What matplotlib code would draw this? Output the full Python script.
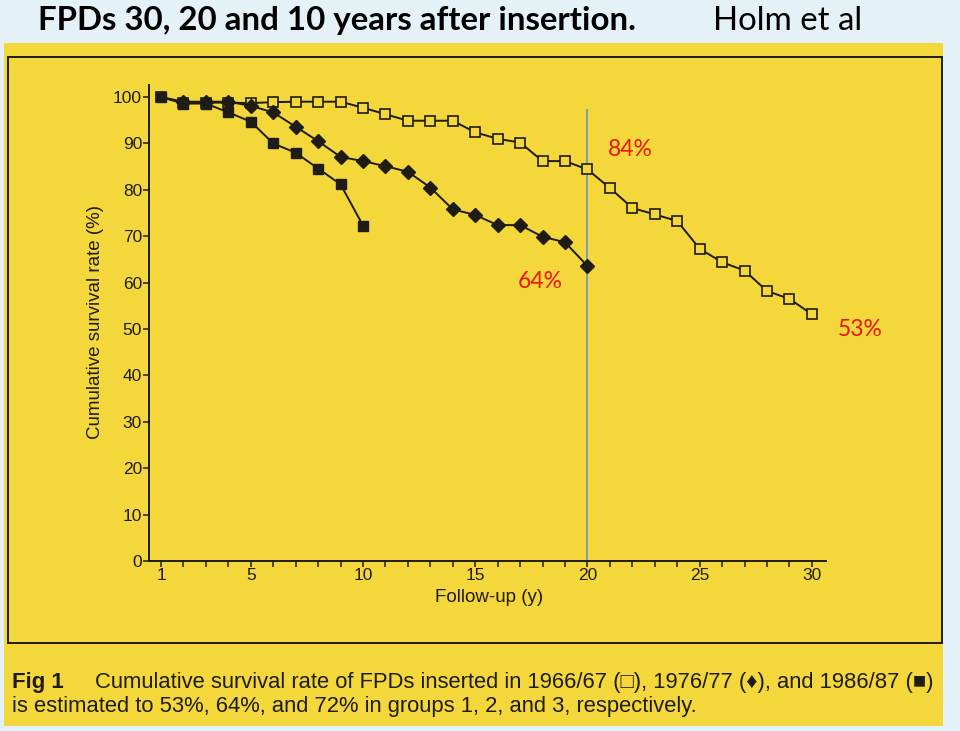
import matplotlib
matplotlib.use('Agg')
import matplotlib.pyplot as plt
from matplotlib import font_manager
from matplotlib.patches import Rectangle

# --- data ---
years_g1 = list(range(1, 31))
surv_g1 = [100, 98.8, 98.8, 98.8, 98.7, 98.9, 99.0, 99.0, 99.0, 97.7,
           96.3, 94.9, 94.9, 94.9, 92.4, 91.0, 90.2, 86.2, 86.2, 84.4,
           80.4, 76.1, 74.7, 73.3, 67.3, 64.4, 62.6, 58.2, 56.5, 53.2]
years_g2 = list(range(1, 21))
surv_g2 = [100, 99.0, 99.0, 99.0, 98.1, 96.7, 93.6, 90.5, 87.1, 86.2,
           85.1, 83.9, 80.5, 75.8, 74.6, 72.4, 72.4, 69.9, 68.7, 63.6]
years_g3 = list(range(1, 11))
surv_g3 = [100, 98.6, 98.6, 96.7, 94.7, 90.0, 88.0, 84.6, 81.2, 72.3]

marks = ['84%', '64%', '53%']
mark_x = [21.9, 17.9, 32.15]
mark_y = [88.8, 60.3, 49.8]

xticks_lab = [1, 5, 10, 15, 20, 25, 30]
yticks = list(range(0, 101, 10))

# --- style ---
SKY = '#e4f1f7'
YELLOW = '#f4d73a'
INK = '#1e1c14'
RED = '#e8170f'
VLINE = '#6a92c8'


def _has(name):
    try:
        font_manager.findfont(name, fallback_to_default=False)
        return True
    except Exception:
        return False


NARROW = 'Liberation Sans Narrow' if _has('Liberation Sans Narrow') else 'Liberation Sans'
SANS = [NARROW, 'Liberation Sans', 'DejaVu Sans']
HUMAN = ['Lato', 'Open Sans', 'DejaVu Sans']

W, H = 960, 731
fig = plt.figure(figsize=(W / 100, H / 100), dpi=100, facecolor=SKY)


def fx(px):
    return px / W


def fy(py):
    return 1 - py / H


# yellow plate and dark frame (behind the axes)
fig.patches.append(Rectangle((fx(4), fy(726)), fx(943) - fx(4), fy(43) - fy(726),
                             transform=fig.transFigure, facecolor=YELLOW,
                             edgecolor='none', zorder=-3))
fig.patches.append(Rectangle((fx(8), fy(643)), fx(942) - fx(8), fy(57) - fy(643),
                             transform=fig.transFigure, facecolor='none',
                             edgecolor=INK, linewidth=1.4, zorder=-2))

ax = fig.add_axes([fx(149), fy(561), fx(826) - fx(149), fy(85) - fy(561)])
ax.patch.set_visible(False)
ax.set_xlim(0.465, 30.63)
ax.set_ylim(0, 102.6)

ax.vlines(20, 0, 97.4, color=VLINE, linewidth=1.2, zorder=1)

ax.plot(years_g1, surv_g1, color=INK, linewidth=1.4, marker='s', markersize=7,
        markerfacecolor=YELLOW, markeredgecolor=INK, markeredgewidth=1.2, zorder=2)
# the first diamond sits under the filled square at 100 %
ax.plot(years_g2, surv_g2, color=INK, linewidth=1.4, marker='D', markersize=7.5,
        markerfacecolor=INK, markeredgecolor=INK, markevery=slice(1, None), zorder=3)
ax.plot(years_g3, surv_g3, color=INK, linewidth=1.4, marker='s', markersize=6.5,
        markerfacecolor=INK, markeredgecolor=INK, zorder=4)

for t, x, y in zip(marks, mark_x, mark_y):
    ax.text(x, y, t, color=RED, fontsize=16.5, family=HUMAN, ha='center',
            va='center', clip_on=False)

for s in ['top', 'right']:
    ax.spines[s].set_visible(False)
for s in ['left', 'bottom']:
    ax.spines[s].set_color(INK)
    ax.spines[s].set_linewidth(1.4)

ax.set_yticks(yticks)
ax.set_xticks(range(1, 31))
ax.set_xticklabels([str(v) if v in xticks_lab else '' for v in range(1, 31)])
ax.tick_params(direction='out', length=4, width=1.1, color=INK, labelcolor=INK,
               labelsize=12.5, pad=1)
for lab in ax.get_xticklabels() + ax.get_yticklabels():
    lab.set_family(SANS)

fig.text(fx(96), fy(322), 'Cumulative survival rate (%)', rotation=90,
         ha='center', va='center', fontsize=13.5, family=SANS, color=INK)
fig.text(fx(489), fy(598), 'Follow-up (y)', ha='center', va='center',
         fontsize=13.5, family=SANS, color=INK)

# caption
fig.text(fx(12), fy(688), 'Fig 1', fontsize=16, fontweight='bold', family=SANS,
         color=INK, va='baseline')
fig.text(fx(95), fy(688),
         'Cumulative survival rate of FPDs inserted in 1966/67 (\u25a1), '
         '1976/77 (\u2666), and 1986/87 (\u25a0)',
         fontsize=15.8, family=SANS, color=INK, va='baseline')
fig.text(fx(12), fy(712),
         'is estimated to 53%, 64%, and 72% in groups 1, 2, and 3, respectively.',
         fontsize=15.8, family=SANS, color=INK, va='baseline')

# title
fig.text(fx(38), fy(30), 'FPDs 30, 20 and 10 years after insertion.',
         fontsize=23.8, fontweight='bold', family=HUMAN, color='black', va='baseline')
fig.text(fx(713), fy(30), 'Holm et al', fontsize=23.8, family=HUMAN,
         color='black', va='baseline')

fig.savefig('out.png', dpi=100, facecolor=SKY)
